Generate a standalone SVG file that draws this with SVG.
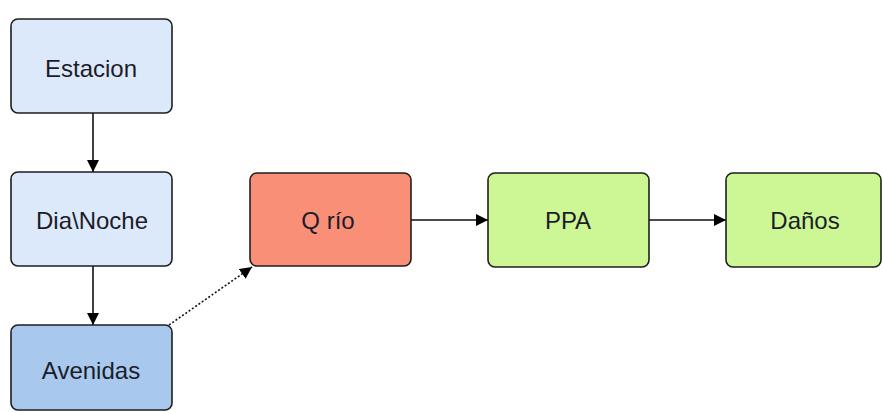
<svg xmlns="http://www.w3.org/2000/svg" width="882" height="412" viewBox="0 0 882 412">
  <style>
    .box { stroke: #1e1e1e; stroke-width: 1.6; }
    .blue { fill: #dce9fb; }
    .deep { fill: #a9c8ed; }
    .red { fill: #fa8f78; }
    .green { fill: #cdf795; }
    .lbl { font-family: "Liberation Sans", Arial, sans-serif; font-size: 24px; fill: #1c1c28; text-anchor: middle; }
    .edge { stroke: #111; stroke-width: 1.6; fill: none; marker-end: url(#arrow); }
    .dotted { stroke-dasharray: 2 2; }
  </style>
  <defs>
    <marker id="arrow" viewBox="0 0 12 12" refX="12" refY="6" markerWidth="12" markerHeight="12" markerUnits="userSpaceOnUse" orient="auto">
      <path d="M0,0 L12,6 L0,12 z" fill="#000"/>
    </marker>
  </defs>

  <g id="connectors">
    <line class="edge" x1="93" y1="113" x2="93" y2="172"/>
    <line class="edge" x1="93" y1="266" x2="93" y2="325"/>
    <line class="edge dotted" x1="169" y1="325" x2="252" y2="267"/>
    <line class="edge" x1="411" y1="220" x2="488" y2="220"/>
    <line class="edge" x1="649" y1="220" x2="726" y2="220"/>
  </g>

  <g id="estacion">
    <rect class="box blue" x="11" y="19" width="161" height="94" rx="7"/>
    <text class="lbl" x="91" y="77">Estacion</text>
  </g>
  <g id="dianoche">
    <rect class="box blue" x="11" y="172" width="161" height="94" rx="7"/>
    <text class="lbl" x="92" y="229">Dia\Noche</text>
  </g>
  <g id="avenidas">
    <rect class="box deep" x="11" y="325" width="161" height="85" rx="7"/>
    <text class="lbl" x="91" y="379">Avenidas</text>
  </g>
  <g id="qrio">
    <rect class="box red" x="250" y="173" width="161" height="93" rx="7"/>
    <text class="lbl" x="328" y="229">Q río</text>
  </g>
  <g id="ppa">
    <rect class="box green" x="488" y="173" width="161" height="94" rx="7"/>
    <text class="lbl" x="568" y="229">PPA</text>
  </g>
  <g id="danos">
    <rect class="box green" x="726" y="173" width="155" height="94" rx="7"/>
    <text class="lbl" x="805" y="229">Daños</text>
  </g>
</svg>
